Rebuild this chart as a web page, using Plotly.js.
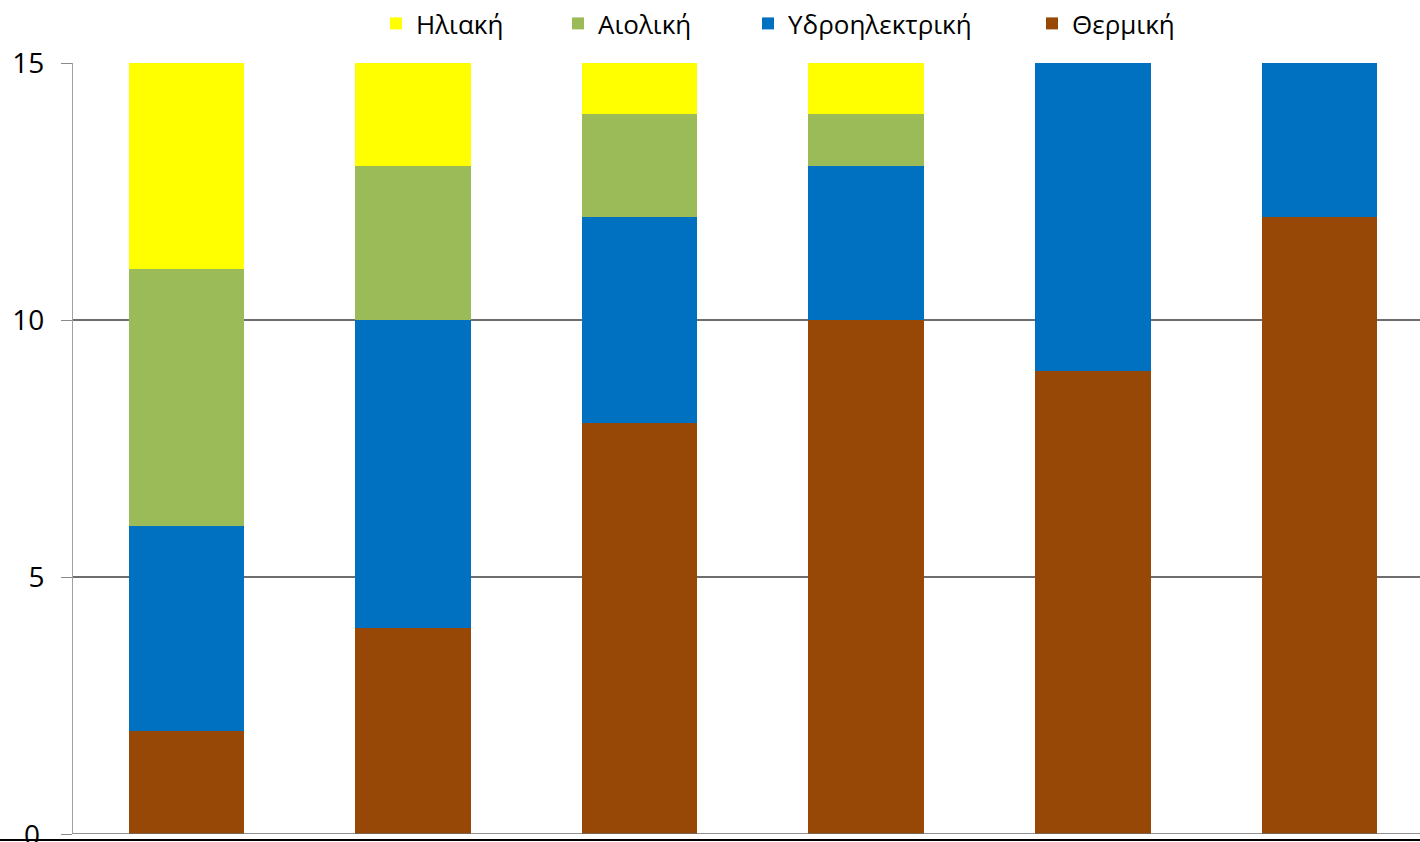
<!DOCTYPE html>
<html>
<head>
<meta charset="utf-8">
<script src="https://cdn.plot.ly/plotly-3.0.1.min.js"></script>
<style>html,body{margin:0;padding:0;background:#fff;}#chart{width:1420px;height:842px;}</style>
</head>
<body>
<div id="chart"></div>
<script>
const categories = ["1", "2", "3", "4", "5", "6"];
const thermal = [2, 4, 8, 10, 9, 12];
const hydro = [4, 6, 4, 3, 6, 3];
const wind = [5, 3, 2, 1, 0, 0];
const solar = [4, 2, 1, 1, 0, 0];
const seriesNames = ["Θερμική", "Υδροηλεκτρική", "Αιολική", "Ηλιακή"];
const yTicks = [0, 5, 10, 15];
const yTickLabels = ["0", "5", "10", "15"];

const colors = ["#974806", "#0070C0", "#9BBB59", "#FFFF00"];
const series = [thermal, hydro, wind, solar];
const legendIds = ["legend4", "legend3", "legend2", "legend"];
const plotL = 73, plotW = 1347;
const legX = px => (px - 14 - plotL) / plotW;

const traces = series.map((vals, i) => ({
  type: "bar",
  x: categories,
  y: vals,
  name: seriesNames[i],
  legend: legendIds[i],
  marker: {color: colors[i], line: {width: 0}},
  hoverinfo: "y+name"
}));

function leg(px) {
  return {
    orientation: "h",
    x: legX(px), xanchor: "left",
    y: 1 + 40 / 772, yanchor: "middle",
    font: {size: 26, color: "#000", family: "Open Sans, sans-serif"},
    itemwidth: 30,
    bgcolor: "rgba(0,0,0,0)",
    borderwidth: 0
  };
}

const layout = {
  width: 1420,
  height: 842,
  barmode: "stack",
  bargap: 0.49,
  paper_bgcolor: "#ffffff",
  plot_bgcolor: "#ffffff",
  margin: {l: plotL, r: 0, t: 62, b: 8, pad: 0},
  font: {family: "Open Sans, sans-serif", color: "#000000"},
  showlegend: true,
  legend: leg(390),
  legend2: leg(572),
  legend3: leg(762),
  legend4: leg(1046),
  xaxis: {
    type: "category",
    range: [-0.5, 5.444],
    showticklabels: false,
    showgrid: false,
    zeroline: false,
    showline: false,
    ticks: ""
  },
  yaxis: {
    range: [0, 15],
    tickvals: yTicks,
    ticktext: yTickLabels.map((t, i) => yTicks[i] === 0 ? "" : t),
    ticks: "outside",
    ticklen: 11,
    tickcolor: "#8a8a8a",
    tickfont: {size: 28, color: "#000"},
    ticklabelstandoff: 11,
    showline: true,
    linecolor: "#a0a0a0",
    linewidth: 1,
    showgrid: true,
    gridcolor: "#6e6e6e",
    gridwidth: 1.5,
    zeroline: false,
    fixedrange: true
  },
  annotations: [{
    xref: "paper", yref: "y",
    x: -31 / plotW, y: yTicks[0],
    xanchor: "right", yanchor: "middle",
    text: yTickLabels[0],
    showarrow: false,
    font: {size: 28, color: "#000", family: "Open Sans, sans-serif"}
  }],
  shapes: [{
    type: "line", xref: "paper", yref: "paper",
    x0: -plotL / plotW, x1: 1, y0: -6 / 772, y1: -6 / 772,
    line: {color: "#000", width: 2}
  }, {
    type: "line", xref: "x", yref: "y",
    x0: -0.5, x1: 5.444, y0: 0, y1: 0,
    line: {color: "#6e6e6e", width: 1.5}
  }]
};

Plotly.newPlot("chart", traces, layout, {displayModeBar: false, staticPlot: true});
</script>
</body>
</html>
